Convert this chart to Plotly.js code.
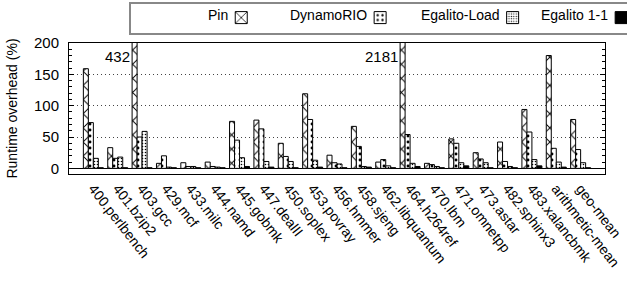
<!DOCTYPE html>
<html>
<head>
<meta charset="utf-8">
<script src="https://cdn.plot.ly/plotly-3.0.1.min.js"></script>
<style>html,body{margin:0;padding:0;background:#fff;}#chart{width:627px;height:287px;}</style>
</head>
<body>
<div id="chart"></div>
<script>
const categories = ['400.perlbench','401.bzip2','403.gcc','429.mcf','433.milc','444.namd','445.gobmk','447.dealII','450.soplex','453.povray','456.hmmer','458.sjeng','462.libquantum','464.h264ref','470.lbm','471.omnetpp','473.astar','482.sphinx3','483.xalancbmk','arithmetic-mean','geo-mean'];
const pin = [159, 33, 432, 8, 9, 10, 75, 77, 40, 119, 21, 67, 10, 2181, 8, 47, 25, 42, 94, 180, 78];
const dynamorio = [73, 16, 50, 20, 3, 3, 45, 63, 19, 78, 9, 35, 14, 54, 6, 40, 15, 11, 58, 32, 30];
const egalitoLoad = [16, 18, 59, 2, 3, 2, 17, 11, 11, 13, 7, 3, 4, 8, 3, 9, 9, 3, 14, 10, 9];
const egalito11 = [1, 1, 1, 1, 1, 1, 3, 2, 1, 2, 1, 2, 1, 3, 1, 4, 1, 1, 4, 2, 1];
const seriesNames = ['Pin', 'DynamoRIO', 'Egalito-Load', 'Egalito 1-1'];
const yMax = 200;

const FONT = 'Liberation Sans, Arial, Helvetica, sans-serif';
const FS = 14;
const line = {color: '#000', width: 1};

const markers = [
  {color:'#fff', line: line, pattern:{shape:'x', size:10, solidity:0.18, fgcolor:'#000', bgcolor:'#fff'}},
  {color:'#fff', line: line, pattern:{shape:'.', size:6, solidity:0.18, fgcolor:'#000', bgcolor:'#fff'}},
  {color:'#fff', line: line, pattern:{shape:'.', size:3, solidity:0.22, fgcolor:'#000', bgcolor:'#fff'}},
  {color:'#000', line: line}
];
const values = [pin, dynamorio, egalitoLoad, egalito11];
const legendIds = ['legend', 'legend2', 'legend3', 'legend4'];

const traces = values.map((vals, k) => ({
  type:'bar', name:'', x: categories, y: vals, marker: markers[k], legend: legendIds[k]
}));

const annotations = [];
pin.forEach((v, i) => {
  if (v > yMax) {
    annotations.push({x: i - 0.41, y: 178, xref:'x', yref:'y', text: String(v), showarrow:false,
      xanchor:'right', yanchor:'middle', font:{family:FONT, size:15, color:'#000'}});
  }
});

// legend block left positions (px)
const legendLeft = [206, 288, 419, 539];
const L = 69, PW = 536;

const layout = {
  width: 627, height: 287,
  margin: {l: L, r: 22, t: 43, b: 113, autoexpand: false},
  paper_bgcolor: '#fff', plot_bgcolor: '#fff',
  font: {family: FONT, size: FS, color: '#000'},
  barmode: 'group', bargap: 0.18, bargroupgap: 0,
  showlegend: true,
  xaxis: {type:'category', range:[-1, 21], showline:true, mirror:true, linecolor:'#000', linewidth:1,
    ticks:'', tickangle:52, showgrid:false, zeroline:false, tickfont:{family:FONT, size:FS}, automargin:false},
  yaxis: {range:[-9, 200], tickvals:[0,50,100,150,200], showline:true, mirror:'allticks', linecolor:'#000', linewidth:1,
    ticks:'inside', ticklen:5, tickcolor:'#000', showgrid:true, gridcolor:'#444', griddash:'1px,3px', gridwidth:1,
    minor:{dtick:10, ticks:'inside', ticklen:3, tickcolor:'#000', showgrid:false},
    zeroline:true, zerolinecolor:'#000', zerolinewidth:1, ticklabelstandoff:6,
    tickfont:{family:FONT, size:15}, automargin:false,
    title:{text:'Runtime overhead (%)', font:{family:FONT, size:FS}, standoff:13}},
  shapes: [
    {type:'rect', xref:'paper', yref:'paper', x0: (130-L)/PW, x1: 1.2, y0: (174-34)/131, y1: (174-3)/131,
     line:{color:'#888', width:2}, fillcolor:'rgba(0,0,0,0)', layer:'below'}
  ],
  annotations: annotations
};
legendIds.forEach((id, k) => {
  layout[id] = {orientation:'h', x: (legendLeft[k] - L) / PW, xanchor:'left', y: (174-18)/131, yanchor:'middle',
    bgcolor:'rgba(0,0,0,0)', borderwidth:0, indentation:-15, font:{family:FONT, size:FS},
    title:{text: seriesNames[k], side:'left', font:{family:FONT, size:FS}}};
});

Plotly.newPlot('chart', traces, layout, {displayModeBar:false, staticPlot:true});
</script>
</body>
</html>
